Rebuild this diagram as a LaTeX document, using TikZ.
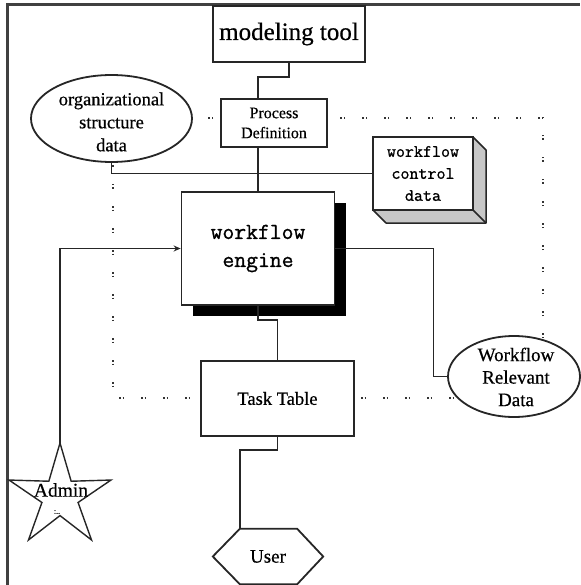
\documentclass[tikz,border=0pt]{standalone}
\usepackage{fontspec}
\setmainfont{Liberation Serif}[FakeBold=0.5]
\newfontfamily\heavymono{Latin Modern Mono}[FakeBold=1.0]
\usetikzlibrary{arrows.meta,calc,shapes.geometric,shadows}

\begin{document}
\begin{tikzpicture}[x=1pt,y=-1pt,
  ink/.style={draw=black!85, line width=1.8pt},
  box/.style={ink, fill=white, rectangle, inner sep=0pt},
  oval/.style={ink, fill=white, ellipse, inner sep=0pt},
  wire/.style={draw=black!85, line width=1.7pt},
  guide/.style={draw=black!80, line width=1.5pt,
    dash pattern=on 1.5pt off 2pt on 1.5pt off 17pt},
  txt/.style={align=center, inner sep=0pt},
  face/.style={fill=black!22, draw=black!85, line width=1.5pt, line join=round},
]
\useasboundingbox (0,0) rectangle (580,585);

% dotted boundary of the engine domain
\draw[guide] (113,118) rectangle (543,398);

% outer frame
\draw[draw=black!75, line width=2.2pt] (7.5,585) -- (7.5,4.5) -- (580,4.5);

% modeling tool and process definition
\node[box, minimum width=152pt, minimum height=56pt,
      font=\fontsize{25}{30}\selectfont] (mt) at (289,34) {modeling tool};
\node[box, txt, minimum width=106pt, minimum height=48pt,
      font=\fontsize{16}{20}\selectfont] (pd) at (274,123) {Process\\Definition};

% organizational structure data
\node[oval, minimum width=161pt, minimum height=87pt] (org) at (111.5,118.5) {};
\node[txt, font=\fontsize{18.5}{23}\selectfont] (orgtext) at (111.5,122)
  {organizational\\structure\\data};

% workflow control data (raised block)
\path[face] (473,137) -- (486,150) -- (486,223) -- (386,223) -- (373,210) -- cycle;
\draw[ink, line width=1.5pt] (473,210) -- (486,223);
\node[box, txt, minimum width=100pt, minimum height=73pt,
      font=\heavymono\fontsize{17.5}{22}\selectfont] (wcd) at (423,173.5)
  {workflow\\control\\data};

% workflow engine with solid drop shadow
\node[box, txt, minimum width=153pt, minimum height=113pt,
      font=\heavymono\fontsize{23}{28}\selectfont,
      drop shadow={shadow xshift=11pt, shadow yshift=-11pt, fill=black, opacity=1}]
  (eng) at (258,248.5) {workflow\\engine};

% task table
\node[box, minimum width=153pt, minimum height=75pt,
      font=\fontsize{18.5}{22}\selectfont] (tt) at (277.5,398.5) {Task Table};

% workflow relevant data
\node[oval, minimum width=132pt, minimum height=81pt] (wrd) at (514,376.5) {};
\node[txt, font=\fontsize{19}{22.5}\selectfont] (wrdtext) at (516,377)
  {Workflow\\Relevant\\Data};

% user (hexagon)
\node[txt, minimum width=110pt, minimum height=55pt,
      font=\fontsize{19}{22}\selectfont] (user) at (268,556.5) {User};
\draw[ink] (user.west) -- ($(user.north west)+(27,0)$) -- ($(user.north east)+(-26,0)$)
  -- (user.east) -- ($(user.south east)+(-26,0)$) -- ($(user.south west)+(27,0)$) -- cycle;
\coordinate (usertop) at ($(user.north west)+(27,0)$);

% admin (star)
\coordinate (sc) at (60,496.6);
\draw[ink, line width=1.4pt, line join=miter]
  ([shift={(sc)}]-90:53.6) -- ([shift={(sc)}]-54:19) -- ([shift={(sc)}]-18:53.6)
  -- ([shift={(sc)}]18:19) -- ([shift={(sc)}]54:53.6) -- ([shift={(sc)}]90:19)
  -- ([shift={(sc)}]126:53.6) -- ([shift={(sc)}]162:19) -- ([shift={(sc)}]198:53.6)
  -- ([shift={(sc)}]234:19) -- cycle;
\coordinate (admintop) at ([shift={(sc)}]-90:53.6);
\node[txt, font=\fontsize{19.5}{22}\selectfont] (admin) at (61,490) {Admin};
\node[txt, font=\fontsize{8}{8}\selectfont] (adminmark) at (57,512) {:..};

% connectors
\draw[wire] (mt.south) -- ++(0,14) -| ([xshift=-16pt]pd.north);
\draw[wire] ([xshift=-16pt]pd.south) -- (eng.north);
\draw[wire] (org.south) |- (wcd.west);
\draw[wire, -{Stealth[length=7pt,width=6pt]}] (admintop) |- (eng.west);
\draw[wire] (eng.east) -- ++(98,0) |- (wrd.west);
\draw[wire] (eng.south) -- ++(0,14) -| (tt.north);
\draw[wire] (tt.south) -- ++(0,13) -| (usertop);
\end{tikzpicture}
\end{document}
